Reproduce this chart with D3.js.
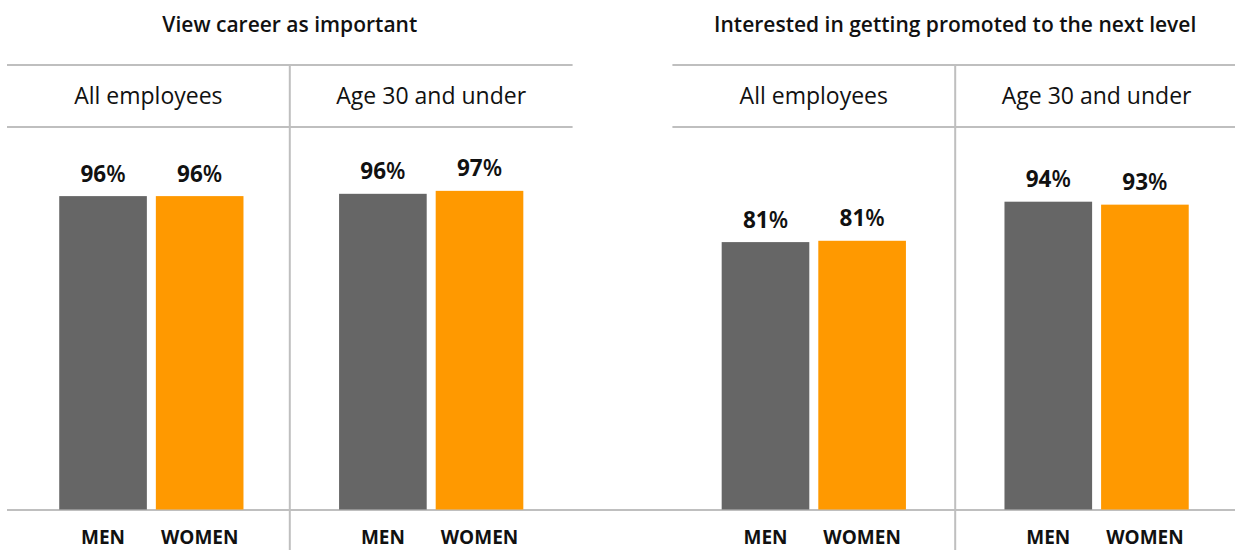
<!DOCTYPE html>
<html>
<head>
<meta charset="utf-8">
<script src="https://cdn.jsdelivr.net/npm/d3@7/dist/d3.min.js"></script>
<style>
  html, body { margin: 0; padding: 0; background: #fff; }
  svg { display: block; font-family: "Open Sans", sans-serif; }
</style>
</head>
<body>
<svg id="chart" width="1235" height="550"></svg>
<script>
// ---- data ----
const panels = ["View career as important", "Interested in getting promoted to the next level"];
const groups = ["All employees", "Age 30 and under"];
const genders = ["MEN", "WOMEN"];
// values by panel, then group
const menValues   = [[95.4, 96.1], [81.4, 93.7]];
const womenValues = [[95.4, 97.0], [81.8, 92.8]];
const menLabels   = [["96", "96"], ["81", "94"]];
const womenLabels = [["96", "97"], ["81", "93"]];
const colors = { MEN: "#666666", WOMEN: "#ff9900" };

// ---- layout ----
const svg = d3.select("#chart");
const W = 1235, H = 550;
const lineColor = "#bfbfbf";
const yTop = 65, yHead = 127, yBase = 509.5;

const xPanel = d3.scaleBand().domain(panels).range([7, 1238]).paddingInner(0.15).paddingOuter(0);
const y = d3.scaleLinear().domain([0, 100]).range([yBase, yBase - 328.5]);

// full-width baseline
svg.append("line")
  .attr("x1", 7).attr("x2", W)
  .attr("y1", yBase + 0.5).attr("y2", yBase + 0.5)
  .attr("stroke", lineColor).attr("stroke-width", 2);

panels.forEach((p, pi) => {
  const px = xPanel(p), pw = xPanel.bandwidth();
  const g = svg.append("g");
  const xGroup = d3.scaleBand().domain(groups).range([px, px + pw]);

  // panel title
  g.append("text")
    .attr("x", xGroup(groups[1])).attr("y", 32)
    .attr("text-anchor", "middle")
    .attr("font-size", 21).attr("font-weight", 600).attr("fill", "#111")
    .text(p);

  // header lines
  [yTop, yHead].forEach(yy => {
    g.append("line")
      .attr("x1", px).attr("x2", Math.min(px + pw, W))
      .attr("y1", yy).attr("y2", yy)
      .attr("stroke", lineColor).attr("stroke-width", 2);
  });

  // divider
  g.append("line")
    .attr("x1", xGroup(groups[1])).attr("x2", xGroup(groups[1]))
    .attr("y1", yTop).attr("y2", H)
    .attr("stroke", lineColor).attr("stroke-width", 2);

  groups.forEach((gr, gi) => {
    const gx = xGroup(gr), gw = xGroup.bandwidth();
    g.append("text")
      .attr("x", gx + gw / 2).attr("y", 104)
      .attr("text-anchor", "middle")
      .attr("font-size", 23).attr("font-weight", 400).attr("fill", "#111")
      .text(gr);

    const xG = d3.scaleBand().domain(genders).range([gx, gx + gw])
      .paddingInner(0.093).paddingOuter(0.51).align(pi === 0 && gi === 0 ? 0.53 : 0.5);

    const rows = genders.map(s => ({
      s,
      v: s === "MEN" ? menValues[pi][gi] : womenValues[pi][gi],
      lab: s === "MEN" ? menLabels[pi][gi] : womenLabels[pi][gi]
    }));

    g.selectAll(null).data(rows).enter().append("rect")
      .attr("x", d => xG(d.s))
      .attr("width", xG.bandwidth())
      .attr("y", d => y(d.v))
      .attr("height", d => y(0) - y(d.v))
      .attr("fill", d => colors[d.s]);

    const lt = g.selectAll(null).data(rows).enter().append("text")
      .attr("x", d => xG(d.s) + xG.bandwidth() / 2)
      .attr("y", d => y(d.v) - 14.5)
      .attr("text-anchor", "middle")
      .attr("font-size", 22.5).attr("fill", "#111");
    lt.append("tspan").attr("font-weight", 700).text(d => d.lab);
    lt.append("tspan").attr("font-weight", 600).text("%");

    g.selectAll(null).data(rows).enter().append("text")
      .attr("x", d => xG(d.s) + xG.bandwidth() / 2)
      .attr("y", 544)
      .attr("text-anchor", "middle")
      .attr("font-size", 19).attr("font-weight", 700).attr("fill", "#111")
      .text(d => d.s);
  });
});
</script>
</body>
</html>
